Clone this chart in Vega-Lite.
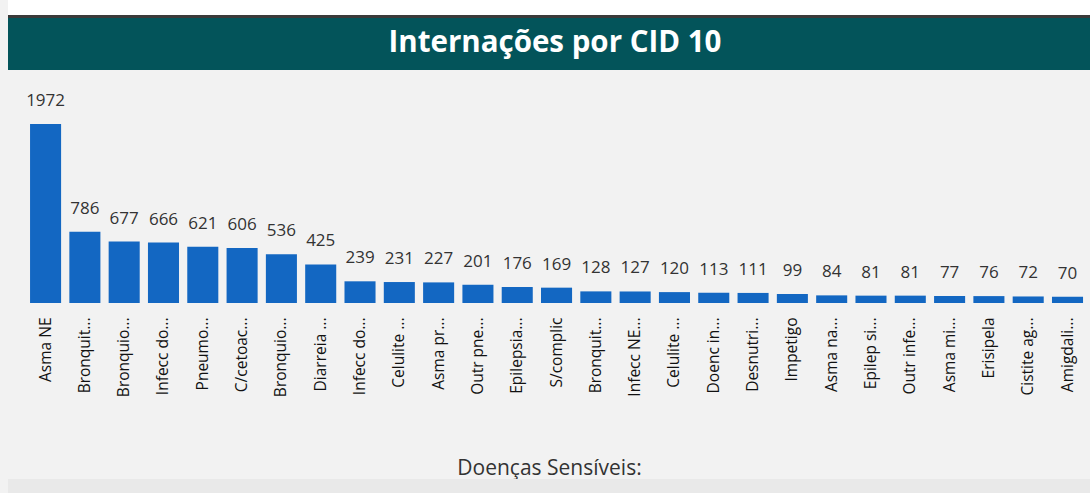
{
  "$schema": "https://vega.github.io/schema/vega-lite/v6.json",
  "background": "#f2f2f2",
  "padding": {"left": 8, "top": 0, "right": 0, "bottom": 0},
  "spacing": 0,
  "config": {"view": {"stroke": null}, "concat": {"spacing": 0}},
  "datasets": {
    "titulo": [{"texto": "Internações por CID 10"}],
    "vazio": [{"texto": ""}],
    "internacoes": [
      {"doenca": "Asma NE", "total": 1972},
      {"doenca": "Bronquit...", "total": 786},
      {"doenca": "Bronquio...", "total": 677},
      {"doenca": "Infecc do...", "total": 666},
      {"doenca": "Pneumo...", "total": 621},
      {"doenca": "C/cetoac...", "total": 606},
      {"doenca": "Bronquio...\u200b", "total": 536},
      {"doenca": "Diarreia ...", "total": 425},
      {"doenca": "Infecc do...\u200b", "total": 239},
      {"doenca": "Celulite ...", "total": 231},
      {"doenca": "Asma pr...", "total": 227},
      {"doenca": "Outr pne...", "total": 201},
      {"doenca": "Epilepsia...", "total": 176},
      {"doenca": "S/complic", "total": 169},
      {"doenca": "Bronquit...\u200b", "total": 128},
      {"doenca": "Infecc NE...", "total": 127},
      {"doenca": "Celulite ...\u200b", "total": 120},
      {"doenca": "Doenc in...", "total": 113},
      {"doenca": "Desnutri...", "total": 111},
      {"doenca": "Impetigo", "total": 99},
      {"doenca": "Asma na...", "total": 84},
      {"doenca": "Epilep si...", "total": 81},
      {"doenca": "Outr infe...", "total": 81},
      {"doenca": "Asma mi...", "total": 77},
      {"doenca": "Erisipela", "total": 76},
      {"doenca": "Cistite ag...", "total": 72},
      {"doenca": "Amigdali...", "total": 70}
    ]
  },
  "vconcat": [
    {
      "width": 1082, "height": 15,
      "view": {"fill": "#ffffff", "stroke": null},
      "data": {"name": "vazio"},
      "mark": {"type": "text", "fontSize": 0},
      "encoding": {"text": {"field": "texto"}}
    },
    {
      "width": 1082, "height": 3,
      "view": {"fill": "#3a3a3a", "stroke": null},
      "data": {"name": "vazio"},
      "mark": {"type": "text", "fontSize": 0},
      "encoding": {"text": {"field": "texto"}}
    },
    {
      "width": 1082, "height": 52,
      "view": {"fill": "#03545a", "stroke": null},
      "data": {"name": "titulo"},
      "mark": {"type": "text", "font": "Open Sans", "fontWeight": "bold", "fontSize": 29.5, "color": "#ffffff", "align": "center", "baseline": "middle", "dx": 6, "dy": -1},
      "encoding": {"text": {"field": "texto"}}
    },
    {
      "width": 1082, "height": 233,
      "data": {"name": "internacoes"},
      "encoding": {
        "x": {
          "field": "doenca", "type": "nominal", "sort": null,
          "scale": {"paddingInner": 0.21, "paddingOuter": 0.369, "align": 0.76},
          "axis": {
            "title": "Doenças Sensíveis:", "titleFont": "Open Sans", "titleFontSize": 21, "titleFontWeight": "normal", "titleColor": "#333333", "titlePadding": 61,
            "labelAngle": -90, "labelFont": "Open Sans", "labelFontSize": 15.5, "labelColor": "#111111", "labelPadding": 14,
            "labelOverlap": false, "labelLimit": 200,
            "domain": false, "ticks": false
          }
        },
        "y": {
          "field": "total", "type": "quantitative",
          "scale": {"domain": [0, 2567], "nice": false, "zero": true},
          "axis": null
        }
      },
      "layer": [
        {"mark": {"type": "bar", "color": "#1367c2"}},
        {"mark": {"type": "text", "font": "Open Sans", "fontSize": 17, "color": "#333333", "baseline": "alphabetic", "dy": -18},
         "encoding": {"text": {"field": "total", "type": "quantitative"}}}
      ]
    },
    {
      "width": 1082, "height": 20,
      "view": {"fill": "#e9e9e9", "stroke": null},
      "data": {"name": "vazio"},
      "mark": {"type": "text", "fontSize": 0},
      "encoding": {"text": {"field": "texto"}}
    }
  ]
}
